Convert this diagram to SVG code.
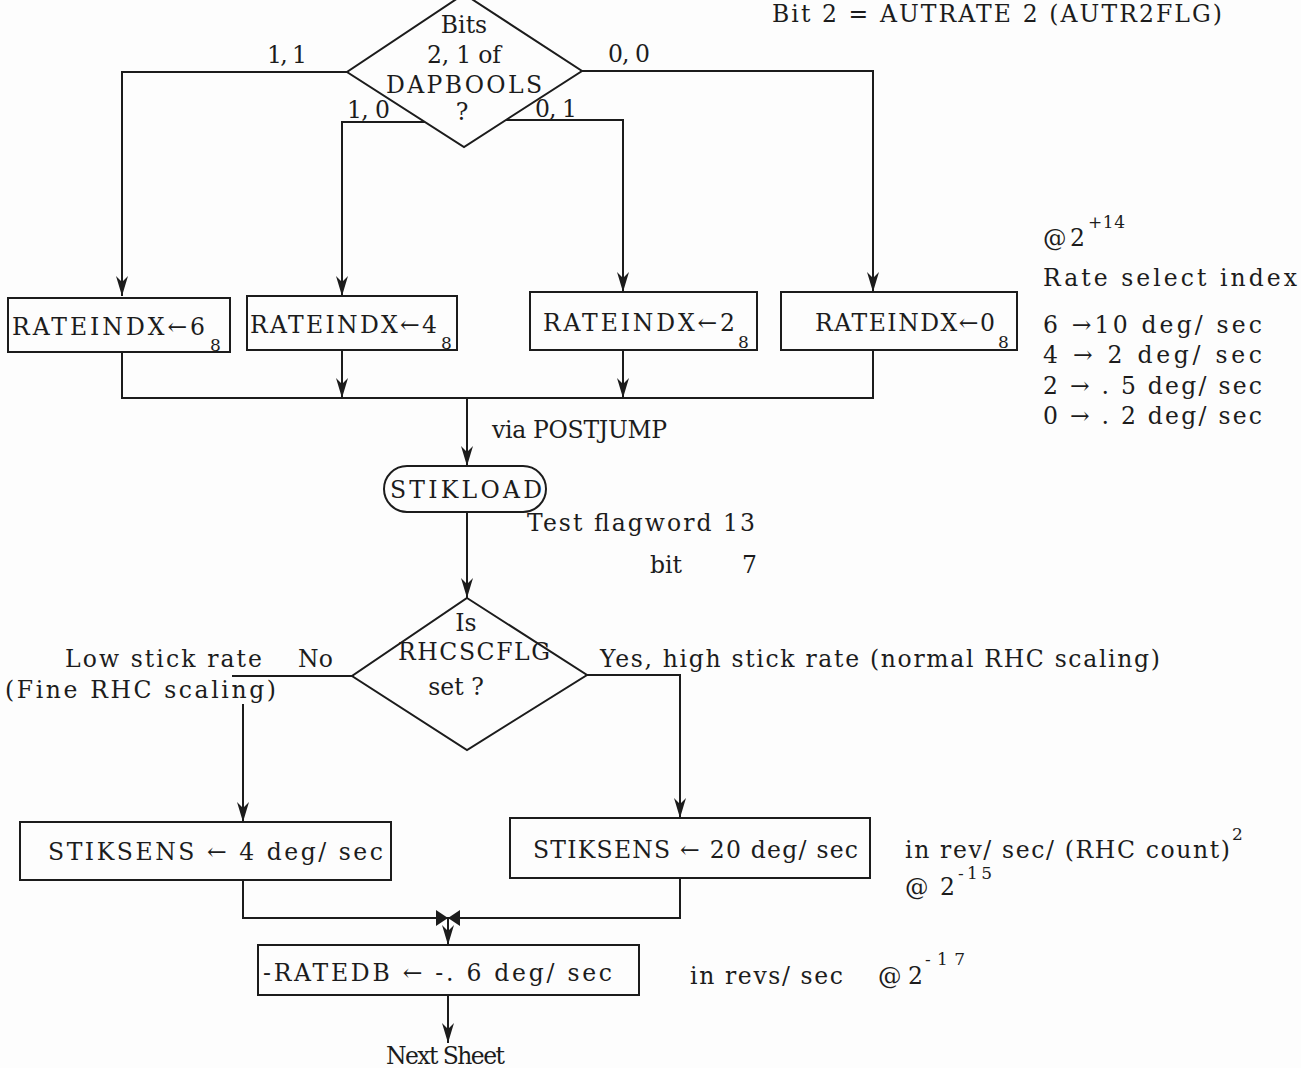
<svg xmlns="http://www.w3.org/2000/svg" width="1301" height="1068" viewBox="0 0 1301 1068">
  <defs>
    <style>
      text { font-family: "DejaVu Serif", "Liberation Serif", serif; font-size: 23.5px; fill: #1c1c1c; }
      .sup { font-size: 17px; }
      .mid { text-anchor: middle; }
      .shape { fill: none; stroke: #1c1c1c; stroke-width: 2; }
      .wire { fill: none; stroke: #1c1c1c; stroke-width: 2; }
    </style>
    <marker id="arrow" viewBox="0 0 20 12" refX="20" refY="6" markerWidth="20" markerHeight="12" markerUnits="userSpaceOnUse" orient="auto">
      <path d="M0,0 L6,6 L0,12 L20,6 Z" fill="#1c1c1c"/>
    </marker>
  </defs>
  <rect width="1301" height="1068" fill="#fdfdfd"/>

  <!-- side notes -->
  <g id="notes">
    <text x="772" y="22" textLength="450" lengthAdjust="spacing">Bit 2 = AUTRATE 2 (AUTR2FLG)</text>
    <text x="1043" y="246" textLength="42" lengthAdjust="spacing">@ 2</text>
    <text x="1088" y="228" class="sup" textLength="37" lengthAdjust="spacing">+14</text>
    <text x="1043" y="286" textLength="254" lengthAdjust="spacing">Rate select index</text>
    <text x="1043" y="333" textLength="219" lengthAdjust="spacing">6 →10 deg/ sec</text>
    <text x="1043" y="363" textLength="219" lengthAdjust="spacing">4 →  2 deg/ sec</text>
    <text x="1043" y="394" textLength="219" lengthAdjust="spacing">2 → . 5 deg/ sec</text>
    <text x="1043" y="424" textLength="219" lengthAdjust="spacing">0 → . 2 deg/ sec</text>
    <text x="905" y="858" textLength="325" lengthAdjust="spacing">in rev/ sec/ (RHC count)</text>
    <text x="1232" y="840" class="sup">2</text>
    <text x="905" y="895" textLength="50" lengthAdjust="spacing">@ 2</text>
    <text x="958" y="879" class="sup" textLength="34" lengthAdjust="spacing">-15</text>
    <text x="690" y="984" textLength="153" lengthAdjust="spacing">in revs/ sec</text>
    <text x="878" y="984" textLength="45" lengthAdjust="spacing">@ 2</text>
    <text x="925" y="965" class="sup" textLength="40" lengthAdjust="spacing">-17</text>
  </g>

  <!-- connectors -->
  <g id="connectors">
    <path class="wire" d="M347,72 H122 V296" marker-end="url(#arrow)"/>
    <path class="wire" d="M582,71 H873 V292" marker-end="url(#arrow)"/>
    <path class="wire" d="M425,122 H342 V296" marker-end="url(#arrow)"/>
    <path class="wire" d="M506,120 H623 V292" marker-end="url(#arrow)"/>
    <path class="wire" d="M122,352 V398 H873 V350"/>
    <path class="wire" d="M342,350 V398" marker-end="url(#arrow)"/>
    <path class="wire" d="M623,350 V398" marker-end="url(#arrow)"/>
    <path class="wire" d="M467,398 V466" marker-end="url(#arrow)"/>
    <path class="wire" d="M467,512 V598" marker-end="url(#arrow)"/>
    <path class="wire" d="M352,676 H232"/>
    <path class="wire" d="M243,704 V822" marker-end="url(#arrow)"/>
    <path class="wire" d="M587,675 H680 V818" marker-end="url(#arrow)"/>
    <path class="wire" d="M243,880 V918 H680 V878"/>
    <path class="wire" d="M448,918 V945" marker-end="url(#arrow)"/>
    <path d="M436,910 L448,918 L436,926 Z M460,910 L448,918 L460,926 Z" fill="#1c1c1c"/>
    <path class="wire" d="M448,995 V1043" marker-end="url(#arrow)"/>
    <text x="267" y="63" textLength="40" lengthAdjust="spacing">1, 1</text>
    <text x="608" y="62" textLength="42" lengthAdjust="spacing">0, 0</text>
    <text x="347" y="118" textLength="43" lengthAdjust="spacing">1, 0</text>
    <text x="535" y="117" textLength="42" lengthAdjust="spacing">0, 1</text>
    <text x="492" y="438" textLength="175" lengthAdjust="spacing">via POSTJUMP</text>
    <text x="527" y="531" textLength="228" lengthAdjust="spacing">Test flagword 13</text>
    <text x="650" y="573">bit</text>
    <text x="742" y="573">7</text>
    <text x="65" y="667" textLength="197" lengthAdjust="spacing">Low stick rate</text>
    <text x="298" y="667" textLength="35" lengthAdjust="spacing">No</text>
    <text x="5" y="698" textLength="271" lengthAdjust="spacing">(Fine RHC scaling)</text>
    <text x="600" y="667" textLength="560" lengthAdjust="spacing">Yes, high stick rate (normal RHC scaling)</text>
    <text x="386" y="1064" textLength="119" lengthAdjust="spacing">Next Sheet</text>
  </g>

  <!-- decision: bits 2,1 of DAPBOOLS -->
  <g id="dapbools">
    <polygon class="shape" points="464,-6 582,71 464,147 347,72"/>
    <text class="mid" x="464" y="33">Bits</text>
    <text class="mid" x="464" y="63" textLength="74" lengthAdjust="spacing">2, 1 of</text>
    <text class="mid" x="464" y="93" textLength="156" lengthAdjust="spacing">DAPBOOLS</text>
    <text class="mid" x="462" y="120">?</text>
  </g>

  <g id="rate6">
    <rect class="shape" x="8" y="298" width="222" height="54"/>
    <text x="12" y="335" textLength="193" lengthAdjust="spacing">RATEINDX←6</text>
    <text x="210" y="351" class="sup">8</text>
  </g>
  <g id="rate4">
    <rect class="shape" x="247" y="296" width="210" height="54"/>
    <text x="250" y="333" textLength="187" lengthAdjust="spacing">RATEINDX←4</text>
    <text x="441" y="349" class="sup">8</text>
  </g>
  <g id="rate2">
    <rect class="shape" x="530" y="292" width="227" height="58"/>
    <text x="543" y="331" textLength="192" lengthAdjust="spacing">RATEINDX←2</text>
    <text x="738" y="348" class="sup">8</text>
  </g>
  <g id="rate0">
    <rect class="shape" x="781" y="292" width="236" height="58"/>
    <text x="815" y="331" textLength="180" lengthAdjust="spacing">RATEINDX←0</text>
    <text x="998" y="348" class="sup">8</text>
  </g>

  <g id="stikload">
    <rect class="shape" x="384" y="466" width="162" height="46" rx="23" ry="23"/>
    <text x="390" y="498" textLength="152" lengthAdjust="spacing">STIKLOAD</text>
  </g>

  <!-- decision: RHCSCFLG set? -->
  <g id="rhcscflg">
    <polygon class="shape" points="467,598 587,675 467,750 352,676"/>
    <text class="mid" x="466" y="631">Is</text>
    <text class="mid" x="474" y="660" textLength="152" lengthAdjust="spacing">RHCSCFLG</text>
    <text class="mid" x="456" y="695">set ?</text>
  </g>

  <g id="stiksens4">
    <rect class="shape" x="20" y="822" width="371" height="58"/>
    <text x="48" y="860" textLength="335" lengthAdjust="spacing">STIKSENS ← 4 deg/ sec</text>
  </g>
  <g id="stiksens20">
    <rect class="shape" x="510" y="818" width="360" height="60"/>
    <text x="533" y="858" textLength="325" lengthAdjust="spacing">STIKSENS ← 20 deg/ sec</text>
  </g>

  <g id="ratedb">
    <rect class="shape" x="258" y="945" width="381" height="50"/>
    <text x="263" y="981" textLength="349" lengthAdjust="spacing">-RATEDB ← -. 6 deg/ sec</text>
  </g>
</svg>
